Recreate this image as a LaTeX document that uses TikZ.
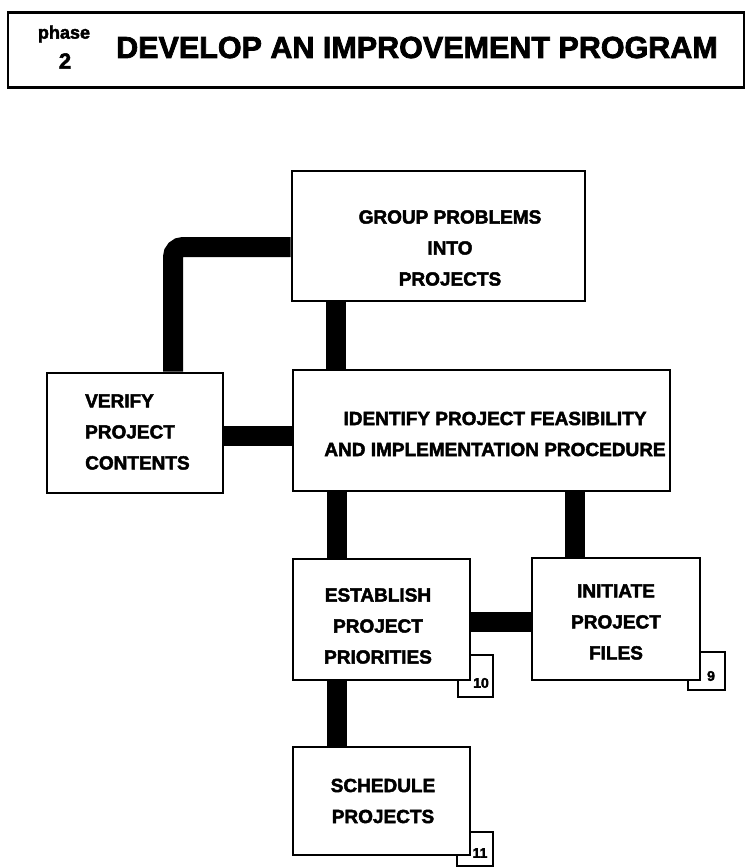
\documentclass[tikz,border=0pt]{standalone}
\usepackage{fontspec}
\setmainfont{Liberation Sans}
\newfontfamily\heavy[FakeBold=2.4]{Liberation Sans Bold}
\begin{document}
\begin{tikzpicture}[x=1pt,y=-1pt,
  frame/.style={draw, line width=2.8pt, fill=white, inner sep=0pt},
  label text/.style={inner sep=0pt, align=center, font=\heavy\fontsize{19}{31}\selectfont},
  flow/.style={line width=20pt},
  tabbox/.style={draw, line width=2.6pt, fill=white, inner sep=0pt},
  tabnum/.style={inner sep=0pt, font=\heavy\fontsize{14}{14}\selectfont}]
\useasboundingbox (0,0) rectangle (746,867);

% heading strip
\node[frame, minimum width=736pt, minimum height=75pt] (head) at (376,50) {};
\node[inner sep=0pt, font=\heavy\fontsize{18}{18}\selectfont] (phase) at (64,34) {phase};
\node[inner sep=0pt, font=\heavy\fontsize{22}{22}\selectfont] (phasenum) at (65,61) {2};
\node[inner sep=0pt, anchor=base west, font=\heavy\fontsize{30.5}{30}\selectfont] (title) at (116,58) {DEVELOP AN IMPROVEMENT PROGRAM};

% routing points of the connectors
\coordinate (gvbend) at (173,247);
\coordinate (gi) at (336,0);
\coordinate (vi) at (0,436);
\coordinate (ie) at (337,0);
\coordinate (in) at (575,0);
\coordinate (ei) at (0,622);
\coordinate (es) at (337,0);

% step boxes
\node[frame, minimum width=293pt, minimum height=130pt] (group) at (438.5,236) {};
\node[frame, minimum width=377pt, minimum height=121pt] (identify) at (481.5,430.5) {};
\node[frame, minimum width=176pt, minimum height=120pt] (verify) at (135,433) {};

% connectors
\draw[flow, rounded corners=10pt] (gvbend -| group.west) -- (gvbend) -- (gvbend |- verify.north);
\draw[flow] (gi |- group.south) -- (gi |- identify.north);
\draw[flow] (verify.east |- vi) -- (vi -| identify.west);

% numbered tabs behind the lower boxes
\node[tabbox, minimum width=35pt, minimum height=42pt] (tab10) at (475.5,676) {};
\node[tabbox, minimum width=37pt, minimum height=38pt] (tab9) at (706.5,671) {};
\node[tabbox, minimum width=36pt, minimum height=34pt] (tab11) at (475,849) {};

\node[frame, minimum width=177pt, minimum height=121pt] (establish) at (381.5,619.5) {};
\node[frame, minimum width=168pt, minimum height=122pt] (initiate) at (616,619) {};
\node[frame, minimum width=177pt, minimum height=108pt] (schedule) at (381.5,801) {};

\draw[flow] (ie |- identify.south) -- (ie |- establish.north);
\draw[flow] (in |- identify.south) -- (in |- initiate.north);
\draw[flow] (establish.east |- ei) -- (ei -| initiate.west);
\draw[flow] (es |- establish.south) -- (es |- schedule.north);

% box texts
\node[label text] (grouptext) at (450,248) {GROUP PROBLEMS\\INTO\\PROJECTS};
\node[label text] (identtext) at (495,434) {IDENTIFY PROJECT FEASIBILITY\\AND IMPLEMENTATION PROCEDURE};
\node[label text, align=left, anchor=west] (verifytext) at (85,432) {VERIFY\\PROJECT\\CONTENTS};
\node[label text] (establishtext) at (378,626) {ESTABLISH\\PROJECT\\PRIORITIES};
\node[label text] (initiatetext) at (616,622) {INITIATE\\PROJECT\\FILES};
\node[label text] (scheduletext) at (383,801) {SCHEDULE\\PROJECTS};

% tab numbers
\node[tabnum] (n10) at (481,683) {10};
\node[tabnum] (n9) at (711,676) {9};
\node[tabnum] (n11) at (480,853) {11};
\end{tikzpicture}
\end{document}
